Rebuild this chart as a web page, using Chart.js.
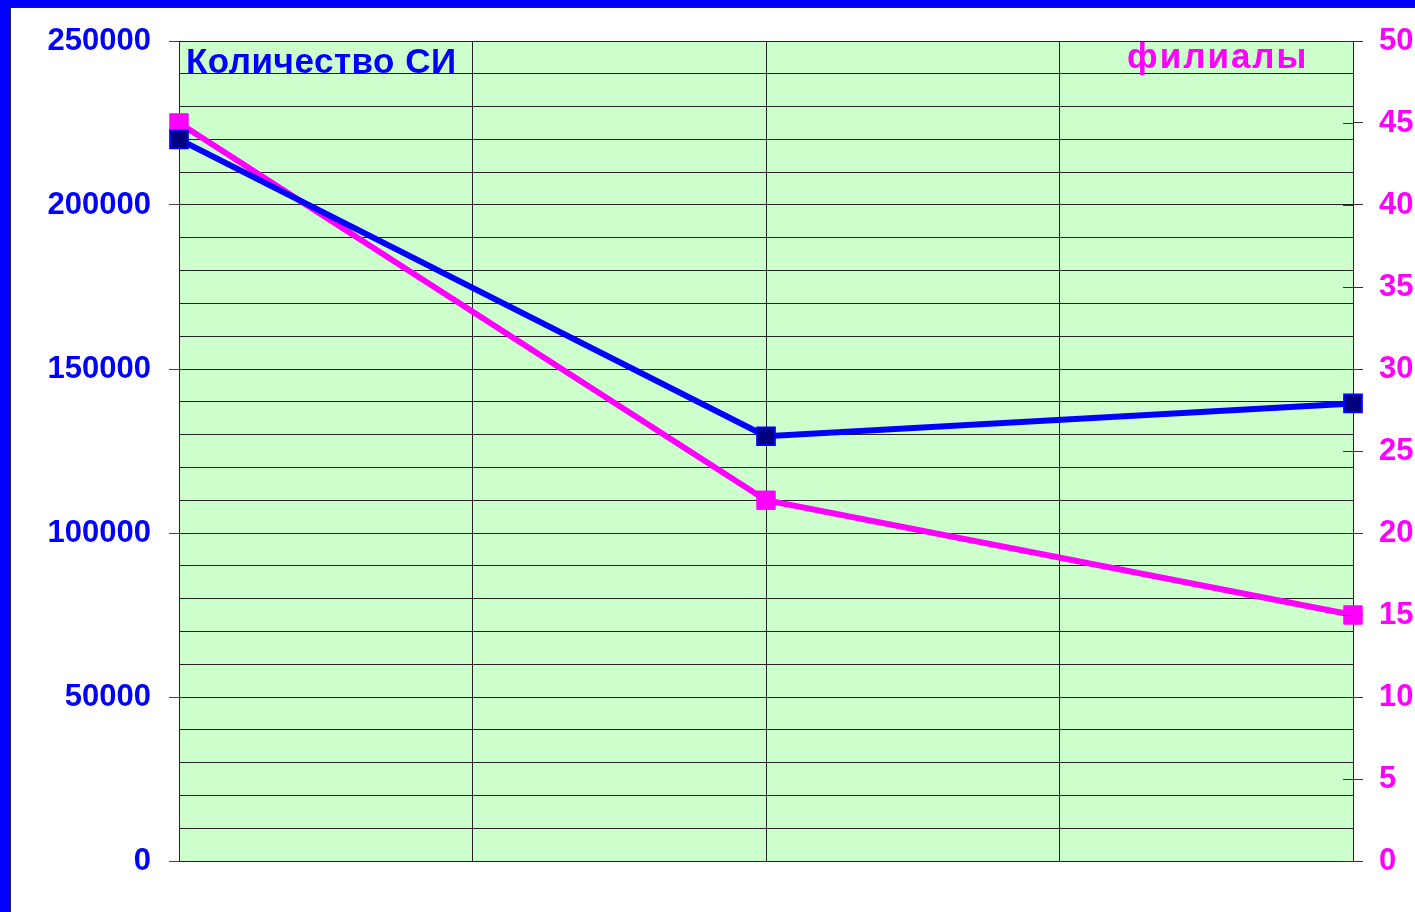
<!DOCTYPE html>
<html>
<head>
<meta charset="utf-8">
<script src="https://cdn.jsdelivr.net/npm/chart.js@4/dist/chart.umd.min.js"></script>
<style>
  html, body { margin: 0; padding: 0; background: #fff; overflow: hidden; }
  canvas { display: block; }
</style>
</head>
<body>
<canvas id="grafico" width="1415" height="912"></canvas>
<script>
// позиции точек по оси X (сетка 0..4)
var xPos = [0, 2, 4];
// Количество СИ
var kolichestvoSI = [220000, 129500, 139500];
// филиалы
var filialy = [45, 22, 15];

var leftTicks = [0, 50000, 100000, 150000, 200000, 250000];
var rightTicks = [0, 5, 10, 15, 20, 25, 30, 35, 40, 45, 50];

function toPoints(xs, ys) {
    var pts = [];
    for (var i = 0; i < xs.length; i++) pts.push({ x: xs[i], y: ys[i] });
    return pts;
}

// рамка, фон области и надписи
var fondo = {
    id: "fondo",
    beforeDraw: function (chart) {
        var ctx = chart.ctx;
        var a = chart.chartArea;
        ctx.save();
        ctx.fillStyle = "#0000FF";
        ctx.fillRect(0, 0, 10, chart.height);
        ctx.fillRect(0, 0, chart.width, 7);
        ctx.fillStyle = "#202040";
        ctx.fillRect(10, 7, 1, chart.height - 7);
        ctx.fillRect(10, 7, chart.width - 10, 1);
        ctx.fillStyle = "#CCFFCC";
        ctx.fillRect(a.left, a.top, a.right - a.left, a.bottom - a.top);
        ctx.restore();
    },
    afterDatasetsDraw: function (chart) {
        var ctx = chart.ctx;
        var a = chart.chartArea;
        var y1 = chart.scales.y1;
        ctx.save();
        // внутренняя часть засечек правой оси
        ctx.strokeStyle = "#333";
        ctx.lineWidth = 1;
        y1.ticks.forEach(function (t) {
            var py = Math.round(y1.getPixelForValue(t.value)) + 0.5;
            ctx.beginPath();
            ctx.moveTo(a.right - 10, py);
            ctx.lineTo(a.right, py);
            ctx.stroke();
        });
        ctx.font = "bold 35px 'Liberation Sans', Arial, sans-serif";
        ctx.textBaseline = "alphabetic";
        ctx.textAlign = "left";
        ctx.fillStyle = "#0000FF";
        ctx.letterSpacing = "0.5px";
        ctx.fillText("Количество СИ", a.left + 7, 73);
        ctx.fillStyle = "#FF00FF";
        ctx.letterSpacing = "2px";
        ctx.fillText("филиалы", 1127, 68);
        ctx.restore();
    }
};

var canvas = document.getElementById("grafico");
var ctx = canvas.getContext("2d");

var myChart = new Chart(ctx, {
    type: "line",
    data: {
        datasets: [
            {
                label: "Количество СИ",
                data: toPoints(xPos, kolichestvoSI),
                yAxisID: "y",
                borderColor: "#0000FF",
                borderWidth: 6,
                pointStyle: "rect",
                pointRadius: 12.5,
                pointBackgroundColor: "#000080",
                pointBorderColor: "#0000FF",
                pointBorderWidth: 2,
                tension: 0
            },
            {
                label: "филиалы",
                data: toPoints(xPos, filialy),
                yAxisID: "y1",
                borderColor: "#FF00FF",
                borderWidth: 6,
                pointStyle: "rect",
                pointRadius: 13,
                pointBackgroundColor: "#FF00FF",
                pointBorderColor: "#FF00FF",
                pointBorderWidth: 1,
                tension: 0
            }
        ]
    },
    plugins: [fondo],
    options: {
        responsive: false,
        animation: false,
        clip: false,
        layout: { padding: { top: 41, left: 0, right: 0, bottom: 0 } },
        plugins: {
            legend: { display: false },
            tooltip: { enabled: false },
            title: { display: false }
        },
        scales: {
            x: {
                type: "linear",
                min: 0,
                max: 4,
                ticks: { stepSize: 1, display: false },
                grid: { color: "#222", lineWidth: 1, drawTicks: false },
                border: { color: "#222" },
                afterFit: function (s) { s.height = 51; }
            },
            y: {
                position: "left",
                min: 0,
                max: 250000,
                ticks: {
                    stepSize: 10000,
                    autoSkip: false,
                    padding: 18,
                    color: "#0000FF",
                    font: { family: "'Liberation Sans', Arial, sans-serif", size: 31, weight: "bold" },
                    callback: function (v) { return leftTicks.indexOf(v) >= 0 ? String(v) : ""; }
                },
                grid: {
                    color: "#222",
                    lineWidth: 1,
                    tickLength: 10,
                    tickColor: function (c) {
                        return c.tick && leftTicks.indexOf(c.tick.value) >= 0 ? "#444" : "rgba(0,0,0,0)";
                    }
                },
                border: { color: "#222" },
                afterFit: function (s) { s.width = 179; }
            },
            y1: {
                position: "right",
                min: 0,
                max: 50,
                ticks: {
                    stepSize: 5,
                    padding: 16,
                    color: "#FF00FF",
                    font: { family: "'Liberation Sans', Arial, sans-serif", size: 31, weight: "bold" }
                },
                grid: { drawOnChartArea: false, tickLength: 10, color: "#333" },
                border: { color: "#222" },
                afterFit: function (s) { s.width = 62; }
            }
        }
    }
});
</script>
</body>
</html>
